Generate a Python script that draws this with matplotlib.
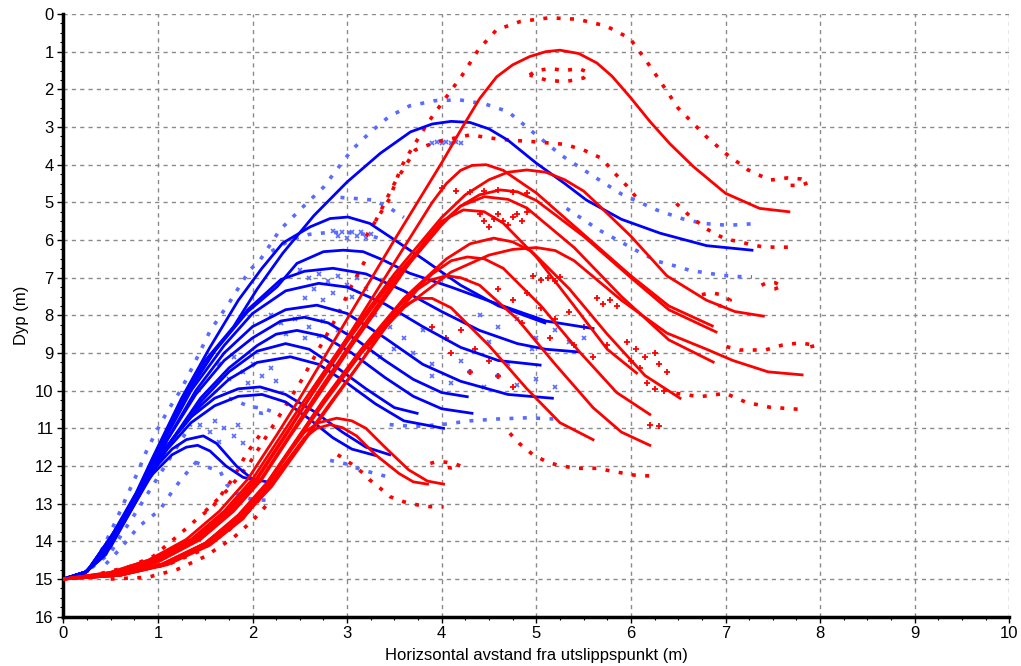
import matplotlib
matplotlib.use("Agg")
import matplotlib.pyplot as plt
from matplotlib.ticker import MultipleLocator

# ---------------- data ----------------
x_ticks = [0, 1, 2, 3, 4, 5, 6, 7, 8, 9, 10]
y_ticks = [0, 1, 2, 3, 4, 5, 6, 7, 8, 9, 10, 11, 12, 13, 14, 15, 16]
x_label = "Horizsontal avstand fra utslippspunkt (m)"
y_label = "Dyp (m)"

# blue plume centre lines (x, depth)
blue_1 = [(0, 15), (0.2, 14.9), (0.4, 14.45), (0.65, 13.4), (0.95, 11.8), (1.25, 10.3), (1.5, 9.2),
          (1.8, 8.3), (2.05, 7.3), (2.32, 6.35), (2.65, 5.35), (3.0, 4.46), (3.35, 3.7), (3.67, 3.13),
          (3.9, 2.92), (4.1, 2.85), (4.3, 2.88), (4.5, 3.05), (4.7, 3.35), (5.0, 3.96), (5.3, 4.5),
          (5.53, 4.94), (5.9, 5.45), (6.31, 5.82), (6.8, 6.15), (7.28, 6.27)]
blue_2 = [(0, 15), (0.2, 14.9), (0.4, 14.45), (0.65, 13.35), (0.95, 11.75), (1.25, 10.2), (1.55, 8.85),
          (1.85, 7.6), (2.1, 6.75), (2.32, 6.08), (2.61, 5.65), (2.82, 5.43), (3.01, 5.39), (3.24, 5.56),
          (3.45, 5.91), (3.8, 6.5), (4.2, 7.2), (4.6, 7.75), (5.09, 8.2)]
blue_3 = [(0, 15), (0.2, 14.9), (0.45, 14.35), (0.7, 13.2), (1.0, 11.6), (1.3, 10.1), (1.6, 8.95),
          (1.95, 7.9), (2.26, 7.24), (2.47, 6.62), (2.75, 6.31), (2.96, 6.27), (3.17, 6.31), (3.38, 6.53),
          (3.66, 6.88), (4.1, 7.25), (4.59, 7.7), (5.1, 8.15), (5.6, 8.35)]
blue_4 = [(0, 15), (0.2, 14.9), (0.45, 14.3), (0.7, 13.15), (1.0, 11.55), (1.3, 10.1), (1.6, 8.95),
          (1.95, 7.85), (2.3, 7.05), (2.55, 6.83), (2.85, 6.75), (3.2, 6.9), (3.6, 7.35), (4.0, 7.9),
          (4.4, 8.4), (4.8, 8.75), (5.1, 8.9), (5.44, 8.97)]
blue_5 = [(0, 15), (0.2, 14.9), (0.45, 14.3), (0.75, 13.0), (1.05, 11.4), (1.35, 10.0), (1.7, 8.8),
          (2.0, 7.95), (2.35, 7.35), (2.7, 7.15), (3.0, 7.25), (3.4, 7.7), (3.8, 8.3), (4.2, 8.85),
          (4.6, 9.2), (5.04, 9.32)]
blue_6 = [(0, 15), (0.2, 14.9), (0.5, 14.15), (0.8, 12.8), (1.1, 11.3), (1.4, 10.0), (1.7, 9.0),
          (2.0, 8.3), (2.35, 7.85), (2.68, 7.73), (3.0, 7.95), (3.4, 8.6), (3.8, 9.3), (4.2, 9.75),
          (4.7, 10.1), (5.17, 10.2)]
blue_7 = [(0, 15), (0.2, 14.9), (0.5, 14.1), (0.8, 12.75), (1.1, 11.3), (1.4, 10.1), (1.7, 9.2),
          (2.0, 8.6), (2.3, 8.15), (2.55, 8.05), (2.8, 8.2), (3.1, 8.65), (3.4, 9.2), (3.7, 9.7),
          (4.0, 10.05), (4.27, 10.16)]
blue_8 = [(0, 15), (0.25, 14.8), (0.55, 13.9), (0.85, 12.6), (1.15, 11.3), (1.45, 10.2), (1.75, 9.4),
          (2.05, 8.8), (2.25, 8.5), (2.47, 8.4), (2.75, 8.55), (3.05, 9.0), (3.4, 9.65), (3.7, 10.15),
          (4.0, 10.48), (4.32, 10.6)]
blue_9 = [(0, 15), (0.25, 14.8), (0.55, 13.85), (0.85, 12.55), (1.15, 11.3), (1.45, 10.3), (1.75, 9.5),
          (2.05, 8.95), (2.35, 8.75), (2.6, 8.9), (2.9, 9.4), (3.2, 9.95), (3.5, 10.45), (3.74, 10.6)]
blue_10 = [(0, 15), (0.25, 14.8), (0.55, 13.8), (0.85, 12.5), (1.15, 11.3), (1.45, 10.4), (1.75, 9.7),
           (2.05, 9.25), (2.4, 9.1), (2.7, 9.3), (3.0, 9.8), (3.3, 10.35), (3.6, 10.8), (4.02, 11.0)]
blue_11 = [(0, 15), (0.25, 14.8), (0.55, 13.75), (0.85, 12.45), (1.1, 11.45), (1.35, 10.7), (1.6, 10.2),
           (1.85, 9.95), (2.08, 9.9), (2.35, 10.1), (2.65, 10.55), (2.95, 11.1), (3.2, 11.5), (3.45, 11.7)]
blue_12 = [(0, 15), (0.25, 14.8), (0.55, 13.7), (0.85, 12.45), (1.1, 11.55), (1.35, 10.85), (1.6, 10.4),
           (1.85, 10.15), (2.1, 10.1), (2.35, 10.3), (2.6, 10.75), (2.85, 11.25), (3.05, 11.55), (3.3, 11.72)]
blue_13 = [(0, 15), (0.25, 14.8), (0.5, 13.9), (0.75, 12.8), (0.95, 12.1), (1.15, 11.55), (1.3, 11.3),
           (1.48, 11.2), (1.62, 11.4), (1.83, 12.0), (2.0, 12.35), (2.22, 12.45)]
blue_14 = [(0, 15), (0.25, 14.8), (0.5, 13.9), (0.75, 12.85), (0.95, 12.2), (1.15, 11.7), (1.3, 11.5),
           (1.42, 11.45), (1.55, 11.6), (1.72, 12.0), (1.9, 12.3), (2.08, 12.4)]

# red plume centre lines (x, depth)
red_1 = [(0, 15), (0.5, 14.82), (0.9, 14.5), (1.3, 13.95), (1.65, 13.2), (1.95, 12.35), (2.25, 11.2),
         (2.5, 10.2), (3.0, 8.1), (3.5, 6.0), (4.0, 3.95), (4.22, 3.0), (4.4, 2.25), (4.58, 1.67),
         (4.75, 1.35), (4.93, 1.13), (5.1, 1.0), (5.25, 0.96), (5.45, 1.05), (5.64, 1.3), (5.8, 1.65),
         (5.99, 2.2), (6.2, 2.85), (6.41, 3.44), (6.66, 4.05), (7.0, 4.76), (7.36, 5.16), (7.67, 5.25)]
red_2 = [(0, 15), (0.5, 14.85), (0.95, 14.5), (1.4, 13.95), (1.75, 13.2), (2.05, 12.35), (2.35, 11.2),
         (2.6, 10.2), (3.0, 8.6), (3.5, 6.6), (3.9, 5.0), (4.05, 4.5), (4.2, 4.15), (4.32, 4.02),
         (4.47, 4.0), (4.65, 4.15), (5.0, 4.75), (5.5, 5.85), (6.0, 6.95), (6.4, 7.75), (6.86, 8.28)]
red_3 = [(0, 15), (0.5, 14.83), (0.9, 14.5), (1.35, 13.95), (1.7, 13.2), (2.0, 12.35), (2.3, 11.2),
         (2.55, 10.25), (3.0, 8.6), (3.5, 6.9), (4.0, 5.4), (4.25, 4.8), (4.5, 4.4), (4.7, 4.2),
         (4.9, 4.14), (5.1, 4.2), (5.3, 4.4), (5.5, 4.7), (5.67, 5.1), (6.0, 5.9), (6.38, 6.95),
         (6.8, 7.6), (7.1, 7.9), (7.4, 8.02)]
red_4 = [(0, 15), (0.5, 14.85), (0.95, 14.5), (1.4, 13.9), (1.75, 13.15), (2.05, 12.3), (2.35, 11.15),
         (2.6, 10.2), (3.0, 8.7), (3.5, 7.0), (4.0, 5.55), (4.2, 5.1), (4.4, 4.8), (4.62, 4.67),
         (4.8, 4.72), (5.0, 4.95), (5.5, 5.9), (6.0, 7.0), (6.4, 7.85), (6.9, 8.44)]
red_5 = [(0, 15), (0.5, 14.85), (1.0, 14.5), (1.45, 13.9), (1.8, 13.15), (2.1, 12.3), (2.4, 11.15),
         (2.65, 10.2), (3.05, 8.7), (3.5, 7.1), (4.0, 5.6), (4.2, 5.1), (4.45, 4.85), (4.7, 4.92),
         (4.9, 5.15), (5.4, 6.2), (5.9, 7.5), (6.4, 8.65), (6.87, 9.24)]
red_6 = [(0, 15), (0.55, 14.85), (1.0, 14.55), (1.45, 13.95), (1.8, 13.2), (2.1, 12.35), (2.4, 11.2),
         (2.65, 10.3), (3.05, 8.8), (3.5, 7.2), (3.8, 6.1), (4.0, 5.5), (4.23, 5.2), (4.45, 5.25),
         (4.65, 5.55), (5.0, 6.45), (5.4, 7.75), (5.75, 8.9), (6.06, 9.53)]
red_7 = [(0, 15), (0.55, 14.88), (1.05, 14.6), (1.5, 14.05), (1.85, 13.35), (2.15, 12.5), (2.45, 11.4),
         (2.75, 10.3), (3.15, 9.0), (3.6, 7.8), (4.1, 6.85), (4.5, 6.4), (4.75, 6.25), (5.0, 6.2),
         (5.2, 6.28), (5.4, 6.55), (5.9, 7.6), (6.38, 8.47), (6.8, 8.9), (7.08, 9.2), (7.45, 9.5), (7.81, 9.58)]
red_8 = [(0, 15), (0.55, 14.88), (1.05, 14.6), (1.5, 14.05), (1.85, 13.3), (2.15, 12.45), (2.45, 11.35),
         (2.75, 10.25), (3.15, 8.9), (3.6, 7.55), (4.05, 6.5), (4.3, 6.1), (4.55, 5.95), (4.75, 6.05),
         (4.95, 6.3), (5.35, 7.3), (5.75, 8.5), (6.15, 9.6), (6.52, 10.2)]
red_9 = [(0, 15), (0.55, 14.88), (1.05, 14.6), (1.5, 14.05), (1.85, 13.35), (2.15, 12.5), (2.45, 11.4),
         (2.75, 10.35), (3.15, 9.0), (3.55, 7.75), (3.9, 6.9), (4.1, 6.55), (4.27, 6.45), (4.45, 6.5),
         (4.65, 6.75), (5.05, 7.75), (5.45, 8.95), (5.85, 10.05), (6.2, 10.63)]
red_10 = [(0, 15), (0.6, 14.9), (1.1, 14.6), (1.55, 14.05), (1.9, 13.35), (2.2, 12.5), (2.5, 11.45),
          (2.8, 10.4), (3.2, 9.05), (3.5, 8.0), (3.75, 7.3), (3.9, 7.05), (4.05, 6.95), (4.2, 7.0),
          (4.4, 7.2), (4.8, 8.1), (5.2, 9.3), (5.6, 10.45), (5.9, 11.1), (6.2, 11.45)]
red_11 = [(0, 15), (0.6, 14.9), (1.1, 14.6), (1.55, 14.05), (1.9, 13.35), (2.2, 12.55), (2.5, 11.5),
          (2.8, 10.45), (3.1, 9.4), (3.4, 8.3), (3.6, 7.75), (3.75, 7.55), (3.9, 7.55), (4.1, 7.8),
          (4.5, 8.8), (4.9, 9.95), (5.25, 10.85), (5.6, 11.3)]
red_12 = [(0, 15), (0.6, 14.9), (1.1, 14.6), (1.55, 14.05), (1.9, 13.3), (2.15, 12.5), (2.4, 11.6),
          (2.55, 11.1), (2.7, 10.85), (2.89, 10.73), (3.05, 10.8), (3.2, 11.0), (3.4, 11.5), (3.65, 12.1),
          (3.85, 12.4), (4.02, 12.48)]
red_13 = [(0, 15), (0.6, 14.9), (1.1, 14.62), (1.55, 14.1), (1.9, 13.4), (2.15, 12.6), (2.4, 11.75),
          (2.55, 11.25), (2.68, 11.0), (2.82, 10.9), (2.95, 10.98), (3.1, 11.2), (3.3, 11.7), (3.55, 12.2),
          (3.7, 12.42), (3.85, 12.48)]

# blue plume edges (dotted "x" marks)
blue_edge_1 = [(0.1, 14.95), (0.25, 14.8), (0.35, 14.5), (0.46, 13.96), (0.56, 13.43), (0.67, 12.81),
               (0.78, 12.2), (0.88, 11.6), (0.98, 11.1), (1.1, 10.55), (1.25, 9.95), (1.4, 9.2), (1.55, 8.42),
               (1.76, 7.64), (1.97, 6.8), (2.08, 6.53), (2.29, 5.73), (2.43, 5.38), (2.57, 5.03), (2.75, 4.6),
               (2.9, 4.1), (3.05, 3.61), (3.24, 3.15), (3.44, 2.73), (3.66, 2.44), (3.93, 2.30), (4.19, 2.28),
               (4.46, 2.39), (4.70, 2.59), (4.86, 2.92), (4.97, 3.15), (5.27, 3.76), (5.6, 4.3), (5.90, 4.78),
               (6.27, 5.2), (6.55, 5.44), (6.76, 5.56), (7.03, 5.61), (7.28, 5.57)]
blue_edge_2 = [(5.32, 5.16), (5.66, 5.73), (5.9, 6.06), (6.11, 6.35), (6.29, 6.57), (6.47, 6.69),
               (6.63, 6.81), (6.79, 6.87), (6.97, 6.94), (7.13, 6.97), (7.28, 6.98)]
blue_edge_3 = [(2.93, 4.87), (3.1, 4.9), (3.28, 4.94), (3.45, 5.15), (3.6, 5.4)]
blue_edge_4 = [(1.4, 11.9), (1.55, 12.05), (1.66, 12.15), (1.73, 12.5), (1.83, 12.72), (1.94, 12.86),
               (2.08, 12.9), (2.24, 12.92)]
blue_edge_5 = [(3.45, 10.9), (3.7, 10.95), (4.0, 10.9), (4.3, 10.8), (4.6, 10.75), (4.9, 10.72), (5.18, 10.75)]
blue_edge_6 = [(2.82, 11.85), (3.0, 11.95), (3.15, 12.1), (3.3, 12.2), (3.45, 12.3)]
blue_edge_7 = [(2.2, 6.3), (2.4, 6.0), (2.6, 5.85), (2.8, 5.8), (3.0, 5.8), (3.2, 5.85), (3.4, 6.0)]
blue_edge_8 = [(0.45, 14.6), (0.6, 14.2), (0.8, 13.6), (1.02, 13.17), (1.16, 12.64), (1.27, 12.28), (1.41, 11.88)]
blue_edge_9 = [(1.75, 10.2), (1.85, 10.3), (1.95, 10.4), (2.05, 10.45), (2.15, 10.5), (2.2, 10.55),
               (2.1, 10.6), (2.0, 10.55)]
blue_edge_10 = [(0.3, 14.7), (0.5, 14.3), (0.62, 13.8), (0.75, 13.3), (0.9, 12.7), (1.05, 12.1), (1.2, 11.5),
                (1.35, 10.9)]

# blue scattered marks
blue_cluster_1 = [(3.9, 3.42), (3.95, 3.4), (4.0, 3.43), (4.05, 3.4), (4.1, 3.42), (4.15, 3.4), (4.2, 3.43)]
blue_cluster_2 = [(2.85, 5.75), (2.9, 5.9), (2.95, 5.8), (3.0, 5.95), (3.05, 5.78), (3.1, 5.9), (3.15, 5.8),
                  (3.2, 5.95), (3.25, 5.85)]
blue_cluster_3 = [(2.5, 6.8), (2.6, 7.0), (2.7, 6.9), (2.8, 7.1), (2.9, 6.95), (3.0, 7.2), (3.1, 7.0),
                  (2.65, 7.3), (2.85, 7.4), (3.05, 7.5), (2.55, 7.55), (2.75, 7.6), (3.2, 7.3)]
blue_cluster_4 = [(2.2, 8.0), (2.3, 8.2), (2.45, 8.1), (2.6, 8.3), (2.75, 8.15), (2.9, 8.4), (2.35, 8.5),
                  (2.55, 8.6), (2.7, 8.55)]
blue_cluster_5 = [(1.65, 9.3), (1.8, 9.1), (1.9, 9.5), (2.0, 9.3), (2.1, 9.6), (2.2, 9.4), (1.75, 9.7),
                  (1.95, 9.8), (2.25, 9.75)]
blue_cluster_6 = [(1.45, 10.9), (1.55, 11.1), (1.6, 10.8), (1.7, 11.0), (1.8, 11.2), (1.65, 11.35),
                  (1.85, 10.9), (1.9, 11.4)]
blue_cluster_7 = [(3.3, 8.0), (3.45, 8.3), (3.6, 8.6), (3.5, 8.9), (3.7, 9.0), (3.8, 8.4), (3.35, 9.1), (3.9, 9.3)]
blue_cluster_8 = [(3.9, 9.6), (4.1, 9.8), (4.3, 9.5), (4.45, 9.9), (4.6, 9.6), (4.8, 9.85), (5.0, 9.7),
                  (5.2, 9.9), (4.2, 9.2), (4.7, 9.3)]
blue_cluster_9 = [(4.4, 8.0), (4.6, 8.3), (4.8, 8.1), (5.0, 8.6), (5.2, 8.4), (5.35, 8.7), (5.5, 8.6),
                  (4.5, 8.7), (4.95, 8.9)]

# red plume edges (dotted "+" marks)
red_edge_1 = [(3.2, 5.9), (3.45, 4.9), (3.56, 4.14), (3.61, 3.88), (3.85, 2.9), (4.05, 2.2), (4.21, 1.65),
              (4.39, 0.94), (4.58, 0.42), (4.83, 0.2), (5.14, 0.1), (5.44, 0.14), (5.74, 0.32), (5.99, 0.65),
              (6.15, 1.2), (6.29, 1.71), (6.5, 2.5), (6.79, 3.24), (7.0, 3.7), (7.24, 4.14), (7.47, 4.41),
              (7.66, 4.35), (7.8, 4.38), (7.88, 4.47), (7.8, 4.55), (7.6, 4.55)]
red_loop_1 = [(4.93, 1.62), (5.0, 1.5), (5.15, 1.45), (5.3, 1.5), (5.45, 1.45), (5.55, 1.55), (5.5, 1.7),
              (5.3, 1.8), (5.1, 1.75), (4.93, 1.62)]
red_edge_2 = [(3.3, 5.5), (3.5, 4.5), (3.72, 3.61), (3.95, 3.39), (4.30, 3.21), (4.62, 3.33), (4.97, 3.39),
              (5.30, 3.46), (5.50, 3.61), (5.69, 3.83), (5.83, 4.23), (5.96, 4.57), (6.1, 5.0)]
red_edge_3 = [(6.48, 10.07), (6.73, 10.16), (7.0, 10.07), (7.22, 10.31), (7.47, 10.44), (7.81, 10.5)]
red_edge_4 = [(7.01, 8.83), (7.15, 8.92), (7.28, 8.92), (7.42, 8.92), (7.6, 8.79), (7.79, 8.73),
              (7.96, 8.8), (7.85, 8.86)]
red_edge_5 = [(4.72, 11.13), (4.82, 11.4), (4.97, 11.71), (5.13, 11.91), (5.22, 11.97), (5.41, 12.06),
              (5.64, 12.06), (5.83, 12.15), (6.03, 12.24), (6.17, 12.26), (6.24, 12.26)]
red_edge_6 = [(2.9, 11.7), (3.05, 11.95), (3.17, 12.19), (3.24, 12.37), (3.35, 12.59), (3.45, 12.81),
              (3.6, 12.95), (3.74, 13.03), (3.88, 13.08), (4.02, 13.08)]
red_loop_2 = [(3.88, 11.93), (3.95, 11.88), (4.05, 11.9), (4.15, 11.95), (4.2, 12.0), (4.1, 12.05), (3.98, 12.02)]
red_edge_7 = [(0.4, 14.85), (0.7, 14.67), (0.95, 14.4), (1.16, 13.96), (1.44, 13.35), (1.58, 13.08),
              (1.8, 12.3), (1.94, 11.66), (2.1, 11.1)]
red_edge_8 = [(0.5, 15.0), (0.9, 14.95), (1.2, 14.75), (1.5, 14.4), (1.8, 13.9), (2.0, 13.45), (2.2, 12.9)]
red_edge_9 = [(6.48, 5.03), (6.6, 5.31), (6.7, 5.51), (6.79, 5.69), (6.9, 5.85), (7.01, 5.98), (7.14, 6.04),
              (7.25, 6.11), (7.39, 6.18), (7.52, 6.19), (7.66, 6.19)]
red_loop_3 = [(7.38, 7.2), (7.45, 7.12), (7.52, 7.13), (7.6, 7.22), (7.52, 7.3), (7.42, 7.33)]
red_loop_4 = [(6.75, 7.45), (6.85, 7.4), (6.95, 7.45), (7.05, 7.6), (6.95, 7.75), (6.85, 7.7)]
red_edge_10 = [(0.3, 14.95), (0.7, 14.8), (1.1, 14.62), (1.45, 14.25), (1.75, 13.7), (2.0, 13.1), (2.2, 12.5)]
red_edge_11 = [(1.5, 13.2), (1.75, 12.6), (1.95, 12.0), (2.15, 11.2), (2.3, 10.6), (2.5, 9.8), (2.7, 8.9),
               (2.9, 8.0), (3.05, 7.2), (3.2, 6.5)]

# red scattered marks
red_cluster_1 = [(4.4, 5.3), (4.45, 5.5), (4.5, 5.65), (4.55, 5.45), (4.6, 5.3), (4.65, 5.5), (4.7, 5.6),
                 (4.75, 5.4), (4.8, 5.3), (4.85, 5.5), (4.9, 5.25)]
red_cluster_2 = [(4.0, 4.63), (4.15, 4.7), (4.3, 4.72), (4.45, 4.7), (4.6, 4.68), (4.75, 4.72), (4.9, 4.76)]
red_cluster_3 = [(4.97, 6.95), (5.05, 7.05), (5.12, 7.0), (5.2, 7.08), (5.25, 6.98)]
red_cluster_4 = [(5.64, 7.55), (5.7, 7.7), (5.78, 7.6), (5.85, 7.75)]
red_cluster_5 = [(5.96, 8.7), (6.05, 8.9), (6.15, 9.1), (6.25, 9.0), (6.3, 9.3), (6.38, 9.5), (6.1, 9.4),
                 (6.0, 9.2), (6.17, 9.8), (6.25, 9.95), (6.35, 10.0), (6.2, 10.9), (6.3, 10.95)]
red_cluster_6 = [(4.6, 7.3), (4.75, 7.6), (4.9, 7.4), (5.05, 7.8), (5.2, 8.1), (5.35, 7.9), (5.5, 8.3),
                 (4.85, 8.2), (5.15, 8.6), (5.4, 8.8), (5.6, 9.1), (5.75, 8.8)]
red_cluster_7 = [(3.9, 8.3), (4.05, 8.6), (4.2, 8.4), (4.35, 8.9), (4.5, 9.2), (4.3, 9.5), (4.6, 9.6),
                 (4.75, 9.9), (4.1, 9.0)]

blue_lines = [blue_1, blue_2, blue_3, blue_4, blue_5, blue_6, blue_7, blue_8, blue_9, blue_10,
              blue_11, blue_12, blue_13, blue_14]
red_lines = [red_1, red_2, red_3, red_4, red_5, red_6, red_7, red_8, red_9, red_10, red_11, red_12, red_13]
blue_edges = [blue_edge_1, blue_edge_2, blue_edge_3, blue_edge_4, blue_edge_5, blue_edge_6, blue_edge_7,
              blue_edge_8, blue_edge_9, blue_edge_10]
red_edges = [red_edge_1, red_loop_1, red_edge_2, red_edge_3, red_edge_4, red_edge_5, red_edge_6, red_loop_2,
             red_edge_7, red_edge_8, red_edge_9, red_loop_3, red_loop_4, red_edge_10, red_edge_11]
blue_points = [blue_cluster_1, blue_cluster_2, blue_cluster_3, blue_cluster_4, blue_cluster_5,
               blue_cluster_6, blue_cluster_7, blue_cluster_8, blue_cluster_9]
red_points = [red_cluster_1, red_cluster_2, red_cluster_3, red_cluster_4, red_cluster_5, red_cluster_6,
              red_cluster_7]

# ---------------- drawing ----------------
plt.rcParams["font.family"] = ["Liberation Sans", "DejaVu Sans"]
W, H = 1021, 666
fig = plt.figure(figsize=(W / 100, H / 100), dpi=100)
ax = fig.add_axes([63.3 / W, (H - 616.7) / H, (1009.3 - 63.3) / W, (616.7 - 14) / H])

BLUE = "#0000ff"
BLUE_PT = "#5a6cff"
RED = "#ff0000"
DOTS = (0, (1.1, 2.6))


def xy(pts):
    return [p[0] for p in pts], [p[1] for p in pts]


for pts in blue_edges:
    xs, ys = xy(pts)
    ax.plot(xs, ys, color=BLUE_PT, lw=2.6, ls=DOTS, zorder=2)
for pts in blue_points:
    xs, ys = xy(pts)
    ax.plot(xs, ys, ls="none", marker="x", ms=3.5, mew=1.2, color=BLUE_PT, zorder=2)
for pts in red_edges:
    xs, ys = xy(pts)
    ax.plot(xs, ys, color=RED, lw=2.6, ls=DOTS, zorder=2)
for pts in red_points:
    xs, ys = xy(pts)
    ax.plot(xs, ys, ls="none", marker="+", ms=4, mew=1.3, color=RED, zorder=2)

for pts in blue_lines:
    xs, ys = xy(pts)
    ax.plot(xs, ys, color=BLUE, lw=2.0, zorder=3, solid_joinstyle="round")
for pts in red_lines:
    xs, ys = xy(pts)
    ax.plot(xs, ys, color=RED, lw=2.0, zorder=4, solid_joinstyle="round")

ax.set_xlim(0, 10)
ax.set_ylim(16, 0)
ax.set_xticks(x_ticks)
ax.set_yticks(y_ticks)
ax.xaxis.set_minor_locator(MultipleLocator(0.25))
ax.yaxis.set_minor_locator(MultipleLocator(0.25))
ax.tick_params(which="major", length=4, width=1, labelsize=12, color="black", pad=3)
ax.tick_params(which="minor", length=2.5, width=0.8, color="black")
ax.grid(True, which="major", color="#8a8a8a", ls=(0, (3, 3)), lw=1)
ax.set_axisbelow(True)
for side in ("top", "right"):
    ax.spines[side].set_visible(False)
for side in ("left", "bottom"):
    ax.spines[side].set_linewidth(2.5)
    ax.spines[side].set_color("black")

ax.set_xlabel(x_label, fontsize=12)
ax.xaxis.set_label_coords(0.5, -0.052)
ax.xaxis.label.set_va("top")
ax.set_ylabel(y_label, fontsize=12)
ax.yaxis.set_label_coords(-0.044, 0.5)
ax.yaxis.label.set_va("center")

fig.savefig("out.png", dpi=100)
